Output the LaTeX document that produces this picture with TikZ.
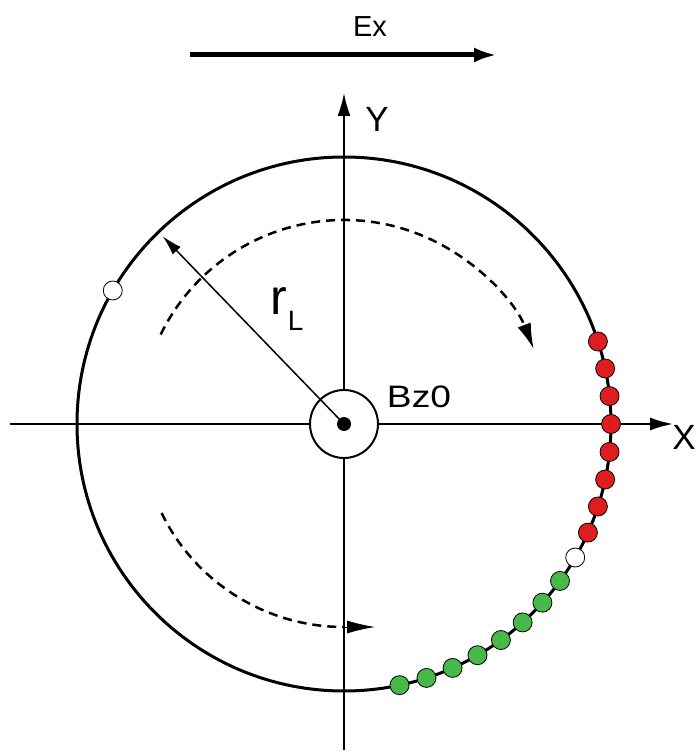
\documentclass[tikz,border=0pt]{standalone}
\usepackage{fontspec}
\setmainfont{Liberation Sans}
\usetikzlibrary{arrows.meta}
\definecolor{dotred}{RGB}{222,30,30}
\definecolor{dotgreen}{RGB}{72,184,72}
\begin{document}
\begin{tikzpicture}[x=1pt,y=1pt,
  axisline/.style={line width=2pt,-{Latex[length=23pt,width=13pt]}},
  dasharc/.style={line width=2.5pt,dash pattern=on 9pt off 6pt},
  dotbase/.style={circle,draw=black,line width=0.8pt,minimum size=19pt,inner sep=0pt},
  reddot/.style={dotbase,fill=dotred},
  greendot/.style={dotbase,fill=dotgreen},
  whitedot/.style={dotbase,fill=white},
  lbl/.style={inner sep=0pt}]
\useasboundingbox (-344,-330) rectangle (353,424);
% Ex arrow
\coordinate (exs) at (-154,369);
\coordinate (exe) at (153,369);
\draw[line width=5pt,-{Latex[length=23pt,width=15pt]}] (exs) -- (exe);
\node[lbl] (ex) at (26,397) {\fontsize{29}{30}\selectfont Ex};
% axes
\coordinate (O) at (0,0);
\coordinate (ybot) at (0,-326);
\coordinate (ytop) at (0,331);
\coordinate (xl) at (-334,0);
\coordinate (xr) at (329,0);
\draw[axisline] (ybot) -- (ytop);
\draw[axisline] (xl) -- (xr);
\node[lbl] (ylab) at (33,305) {\fontsize{35}{36}\selectfont Y};
\node[lbl] (xlab) at (340,-13) {\fontsize{35}{36}\selectfont X};
% big circle
\draw[line width=3pt] (O) circle[radius=267];
% dashed arcs
\draw[dasharc,-{Latex[length=26pt,width=14pt]}] (154:204) arc[start angle=154,end angle=21.5,radius=204];
\draw[dasharc] (206:203) arc[start angle=206,end angle=270,radius=203];
\coordinate (la) at (-2,-203);
\coordinate (lb) at (31,-203);
\draw[line width=1pt,-{Latex[length=28pt,width=13pt]}] (la) -- (lb);
% small circle and centre
\draw[line width=2pt,fill=white] (O) circle[radius=34];
\coordinate (rend) at (134:261);
\draw[line width=1.5pt,-{Latex[length=20pt,width=11pt]}] (O) -- (rend);
\fill (O) circle[radius=7];
\node[lbl] (bz) at (75,27) {\scalebox{1.2}[1]{\fontsize{31}{32}\selectfont Bz0}};
\node[lbl,anchor=base west] (rl) at (-74,109) {\fontsize{50}{50}\selectfont r\kern1pt\raisebox{-16pt}{\fontsize{28}{28}\selectfont L}};
% dots
\foreach \a [count=\i] in {18,12,6,0,-6,-12,-18,-24}
  \node[reddot] (r\i) at (\a:267) {};
\node[whitedot] (w1) at (-30:267) {};
\foreach \a [count=\i] in {-36,-42,-48,-54,-60,-66,-72,-78}
  \node[greendot] (g\i) at (\a:267) {};
\node[whitedot] (w2) at (150:267) {};
\end{tikzpicture}
\end{document}
